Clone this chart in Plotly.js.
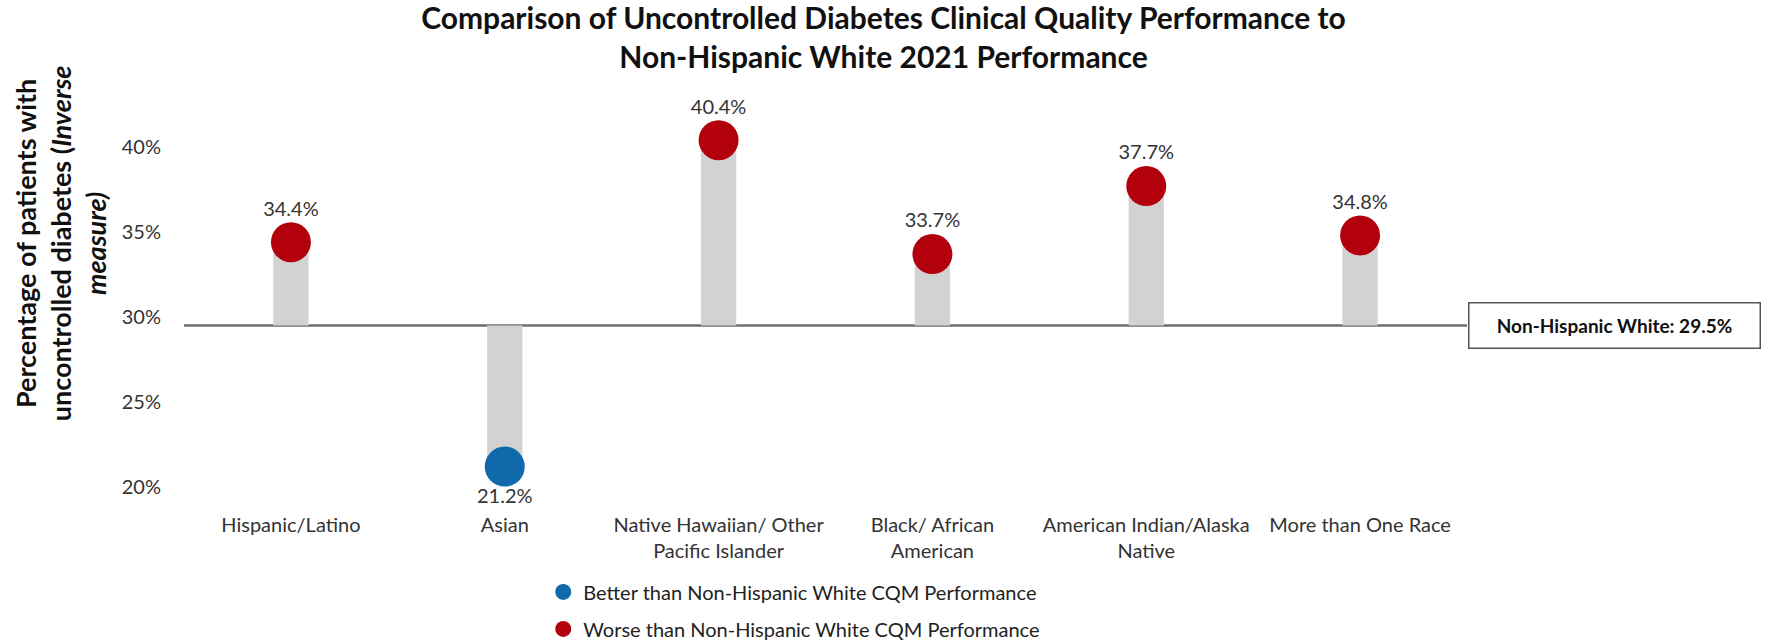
<!DOCTYPE html>
<html>
<head>
<meta charset="utf-8">
<script src="https://cdn.plot.ly/plotly-3.0.1.min.js"></script>
<style>
  html, body { margin: 0; padding: 0; background: #ffffff; }
  #chart { width: 1767px; height: 642px; }
</style>
</head>
<body>
<div id="chart"></div>
<script>
// Uncontrolled diabetes rate by race/ethnicity, compared with the Non-Hispanic White rate
const categories = [
  'Hispanic/Latino',
  'Asian',
  'Native Hawaiian/ Other Pacific Islander',
  'Black/ African American',
  'American Indian/Alaska Native',
  'More than One Race'
];
const tickLabels = [
  'Hispanic/Latino',
  'Asian',
  'Native Hawaiian/ Other<br>Pacific Islander',
  'Black/ African<br>American',
  'American Indian/Alaska<br>Native',
  'More than One Race'
];
const rates = [34.4, 21.2, 40.4, 33.7, 37.7, 34.8];
const referenceGroup = 'Non-Hispanic White';
const referenceRate = 29.5;
const yTicks = [20, 25, 30, 35, 40];

const betterName = 'Better than Non-Hispanic White CQM Performance';
const worseName = 'Worse than Non-Hispanic White CQM Performance';

const FONT = 'Lato, "Open Sans", sans-serif';
const RED = '#b3000d';
const BLUE = '#0f69ab';
const STEM = '#d2d2d2';

// Lower is better for this (inverse) measure
const better = { x: [], y: [] };
const worse = { x: [], y: [] };
categories.forEach((c, i) => {
  const target = rates[i] < referenceRate ? better : worse;
  target.x.push(c);
  target.y.push(rates[i]);
});

const fmt = v => v.toFixed(1) + '%';

const stems = {
  type: 'bar',
  x: categories,
  y: rates.map(v => v - referenceRate),
  base: rates.map(() => referenceRate),
  width: 0.165,
  marker: { color: STEM },
  showlegend: false,
  hoverinfo: 'skip'
};

function dots(group, name, color) {
  return {
    type: 'scatter',
    mode: 'markers',
    name: name,
    legendgroup: name,
    x: group.x,
    y: group.y,
    marker: { size: 40, color: color },
    cliponaxis: false
  };
}

// Value labels sit just outside each dot
function labels(group, position) {
  return {
    type: 'scatter',
    mode: 'markers+text',
    x: group.x,
    y: group.y,
    text: group.y.map(fmt),
    textposition: position,
    textfont: { family: FONT, size: 20, color: '#333333' },
    marker: { size: 33, color: 'rgba(0,0,0,0)' },
    showlegend: false,
    hoverinfo: 'skip',
    cliponaxis: false
  };
}

const traces = [
  stems,
  dots(better, betterName, BLUE),
  dots(worse, worseName, RED),
  labels(better, 'bottom center'),
  labels(worse, 'top center')
];

const layout = {
  width: 1767,
  height: 642,
  paper_bgcolor: '#ffffff',
  plot_bgcolor: '#ffffff',
  margin: { l: 184, r: 300, t: 113, b: 138, pad: 0, autoexpand: false },
  font: { family: FONT, color: '#333333' },
  title: {
    text: '<b>Comparison of Uncontrolled Diabetes Clinical Quality Performance to<br>Non-Hispanic White 2021 Performance</b>',
    font: { family: FONT, size: 30, color: '#111111' },
    x: 0.5,
    xref: 'container',
    xanchor: 'center',
    y: 0.955,
    yref: 'container',
    yanchor: 'top'
  },
  xaxis: {
    type: 'category',
    tickvals: categories,
    ticktext: tickLabels,
    tickfont: { family: FONT, size: 20, color: '#333333' },
    showgrid: false,
    showline: false,
    zeroline: false,
    ticks: 'outside',
    ticklen: 3,
    tickcolor: 'rgba(0,0,0,0)',
    range: [-0.5, categories.length - 0.5]
  },
  yaxis: {
    range: [19, 42],
    tickvals: yTicks,
    ticktext: yTicks.map(v => v + '%'),
    tickfont: { family: FONT, size: 20, color: '#333333' },
    showgrid: false,
    showline: false,
    zeroline: false,
    ticks: 'outside',
    ticklen: 18,
    tickcolor: 'rgba(0,0,0,0)'
  },
  shapes: [
    {
      type: 'line',
      xref: 'paper', x0: 0, x1: 1,
      yref: 'y', y0: referenceRate, y1: referenceRate,
      line: { color: '#6e6e6e', width: 2.5 },
      layer: 'below'
    }
  ],
  annotations: [
    {
      text: '<b>Percentage of patients with<br>uncontrolled diabetes (<i>Inverse</i><br><i>measure)</i></b>',
      textangle: -90,
      xref: 'paper', yref: 'paper',
      x: -0.0966, y: 0.667,
      xanchor: 'center', yanchor: 'middle',
      showarrow: false,
      font: { family: FONT, size: 27, color: '#111111' }
    },
    {
      text: '<b>' + referenceGroup + ': ' + fmt(referenceRate) + '</b>',
      xref: 'paper', yref: 'y',
      x: 1, y: referenceRate,
      xanchor: 'left', yanchor: 'middle',
      xshift: 1,
      showarrow: false,
      width: 290,
      height: 44,
      align: 'center',
      bordercolor: '#555555',
      borderwidth: 1.5,
      borderpad: 0,
      bgcolor: '#ffffff',
      font: { family: FONT, size: 19, color: '#111111' }
    }
  ],
  showlegend: true,
  legend: {
    x: 0.28,
    xanchor: 'left',
    y: -0.175,
    yanchor: 'top',
    orientation: 'v',
    traceorder: 'grouped',
    tracegroupgap: 8,
    bgcolor: 'rgba(0,0,0,0)',
    font: { family: FONT, size: 20, color: '#222222' }
  }
};

Plotly.newPlot('chart', traces, layout, { displayModeBar: false, staticPlot: true });
</script>
</body>
</html>
